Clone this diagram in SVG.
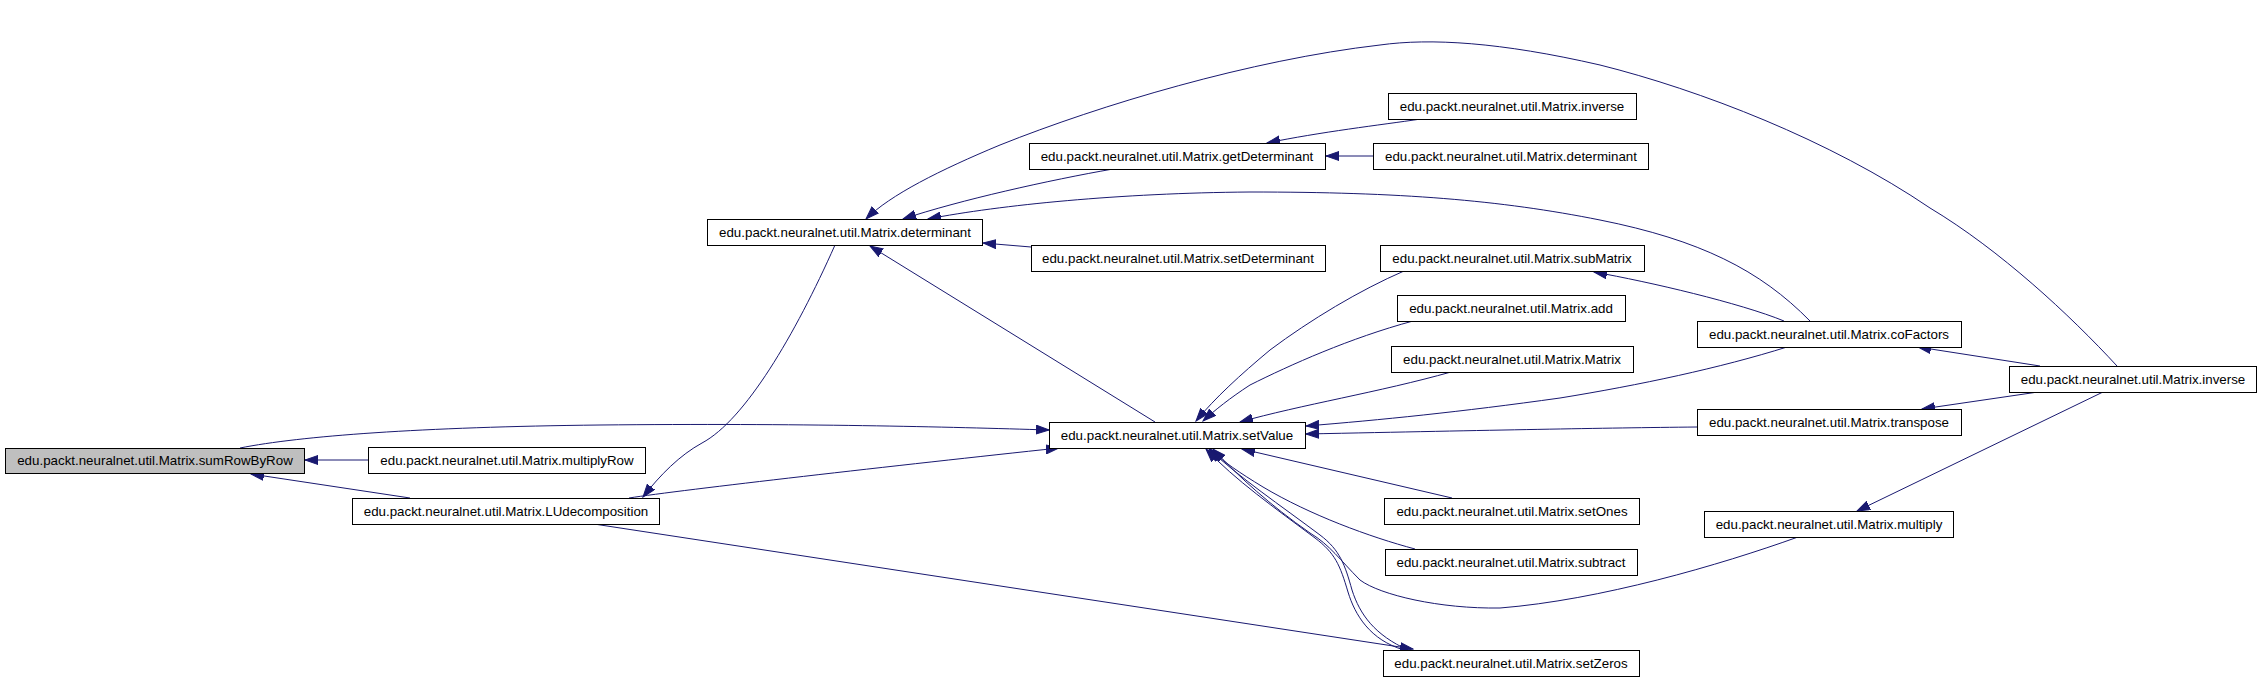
<svg xmlns="http://www.w3.org/2000/svg" width="2261" height="681" viewBox="0 0 2261 681">
<defs>
<style>
.node rect{fill:#ffffff;stroke:#000000;stroke-width:1}
.node.cur rect{fill:#bfbfbf}
.node text{font-family:"Liberation Sans",Arial,Helvetica,sans-serif;font-size:13.33px;fill:#000000;text-anchor:middle}
.edges path{fill:none;stroke:#191970;stroke-width:1;marker-end:url(#ah)}
</style>
<marker id="ah" markerUnits="userSpaceOnUse" markerWidth="14" markerHeight="10" refX="13" refY="5" orient="auto">
<path d="M0,0.5 L13,5 L0,9.5 z" fill="#191970" stroke="#191970" stroke-width="1"/>
</marker>
</defs>
<rect width="2261" height="681" fill="#ffffff"/>
<g class="edges" id="edges">
<path d="M368,460 L305,460"/>
<path d="M410,498 L251,474"/>
<path d="M240,448 C300,436 420,427 600,425 C800,423 950,427 1049,430"/>
<path d="M629,498 C680,490 900,465 1059,448"/>
<path d="M835,245 C795,335 745,420 702,443 C680,455 660,475 643,497"/>
<path d="M1155,422 L870,246"/>
<path d="M1031,247 L983,243"/>
<path d="M1113,169 C1050,180 960,200 903,219"/>
<path d="M1810,321 C1760,270 1700,240 1600,220 C1500,200 1400,192 1250,192 C1120,193 1000,205 928,219"/>
<path d="M2117,366 C2070,315 2000,250 1930,208 C1830,140 1700,90 1600,65 C1500,42 1430,38 1380,45 C1250,60 1100,105 1000,145 C940,170 890,195 866,219"/>
<path d="M1421,119 C1380,125 1320,132 1267,143"/>
<path d="M1373,156 L1326,156"/>
<path d="M1784,321 C1740,303 1650,282 1594,272"/>
<path d="M1404,271 C1360,290 1310,320 1270,350 C1240,375 1215,398 1196,421"/>
<path d="M1413,321 C1350,338 1290,365 1250,385 C1230,398 1215,410 1203,421"/>
<path d="M1451,372 C1380,392 1300,405 1240,422"/>
<path d="M1787,347 C1720,368 1640,385 1560,398 C1460,412 1380,420 1306,426"/>
<path d="M1697,427 C1600,428 1500,430 1306,434"/>
<path d="M1452,498 L1242,449"/>
<path d="M1415,549 C1370,537 1310,515 1263,487 C1240,473 1222,461 1210,449"/>
<path d="M1798,537 C1720,565 1600,600 1500,608 C1440,609 1380,595 1360,580 C1340,560 1330,545 1310,533 C1270,505 1240,478 1213,449"/>
<path d="M1408,650 C1375,635 1360,615 1352,590 C1345,565 1340,550 1320,535 C1280,505 1240,478 1209,449"/>
<path d="M1404,650 C1370,640 1355,615 1348,592 C1340,565 1335,553 1315,538 C1275,508 1235,480 1206,449"/>
<path d="M594,524 L1413,649"/>
<path d="M2040,366 L1918,347"/>
<path d="M2038,392 L1922,409"/>
<path d="M2103,392 L1857,511"/>
</g>
<g id="n_sumRowByRow" class="node cur"><rect x="5.5" y="448.5" width="299" height="25"/><text x="155" y="465">edu.packt.neuralnet.util.Matrix.sumRowByRow</text></g>
<g id="n_multiplyRow" class="node"><rect x="368.5" y="447.5" width="277" height="26"/><text x="507" y="465">edu.packt.neuralnet.util.Matrix.multiplyRow</text></g>
<g id="n_LUdecomposition" class="node"><rect x="352.5" y="498.5" width="307" height="26"/><text x="506" y="516">edu.packt.neuralnet.util.Matrix.LUdecomposition</text></g>
<g id="n_determinant" class="node"><rect x="707.5" y="219.5" width="275" height="26"/><text x="845" y="237">edu.packt.neuralnet.util.Matrix.determinant</text></g>
<g id="n_getDeterminant" class="node"><rect x="1029.5" y="143.5" width="296" height="26"/><text x="1177" y="161">edu.packt.neuralnet.util.Matrix.getDeterminant</text></g>
<g id="n_setDeterminant" class="node"><rect x="1031.5" y="245.5" width="294" height="26"/><text x="1178" y="263">edu.packt.neuralnet.util.Matrix.setDeterminant</text></g>
<g id="n_setValue" class="node"><rect x="1049.5" y="422.5" width="256" height="26"/><text x="1177" y="440">edu.packt.neuralnet.util.Matrix.setValue</text></g>
<g id="n_inverse_top" class="node"><rect x="1388.5" y="93.5" width="248" height="26"/><text x="1512" y="111">edu.packt.neuralnet.util.Matrix.inverse</text></g>
<g id="n_determinant2" class="node"><rect x="1373.5" y="143.5" width="275" height="26"/><text x="1511" y="161">edu.packt.neuralnet.util.Matrix.determinant</text></g>
<g id="n_subMatrix" class="node"><rect x="1380.5" y="245.5" width="264" height="26"/><text x="1512" y="263">edu.packt.neuralnet.util.Matrix.subMatrix</text></g>
<g id="n_add" class="node"><rect x="1397.5" y="295.5" width="228" height="26"/><text x="1511" y="313">edu.packt.neuralnet.util.Matrix.add</text></g>
<g id="n_Matrix" class="node"><rect x="1391.5" y="346.5" width="242" height="26"/><text x="1512" y="364">edu.packt.neuralnet.util.Matrix.Matrix</text></g>
<g id="n_coFactors" class="node"><rect x="1697.5" y="321.5" width="264" height="26"/><text x="1829" y="339">edu.packt.neuralnet.util.Matrix.coFactors</text></g>
<g id="n_transpose" class="node"><rect x="1697.5" y="409.5" width="264" height="26"/><text x="1829" y="427">edu.packt.neuralnet.util.Matrix.transpose</text></g>
<g id="n_inverse" class="node"><rect x="2009.5" y="366.5" width="247" height="26"/><text x="2133" y="384">edu.packt.neuralnet.util.Matrix.inverse</text></g>
<g id="n_multiply" class="node"><rect x="1704.5" y="511.5" width="249" height="26"/><text x="1829" y="529">edu.packt.neuralnet.util.Matrix.multiply</text></g>
<g id="n_setOnes" class="node"><rect x="1384.5" y="498.5" width="255" height="26"/><text x="1512" y="516">edu.packt.neuralnet.util.Matrix.setOnes</text></g>
<g id="n_subtract" class="node"><rect x="1385.5" y="549.5" width="252" height="26"/><text x="1511" y="567">edu.packt.neuralnet.util.Matrix.subtract</text></g>
<g id="n_setZeros" class="node"><rect x="1383.5" y="650.5" width="256" height="26"/><text x="1511" y="668">edu.packt.neuralnet.util.Matrix.setZeros</text></g>
</svg>
